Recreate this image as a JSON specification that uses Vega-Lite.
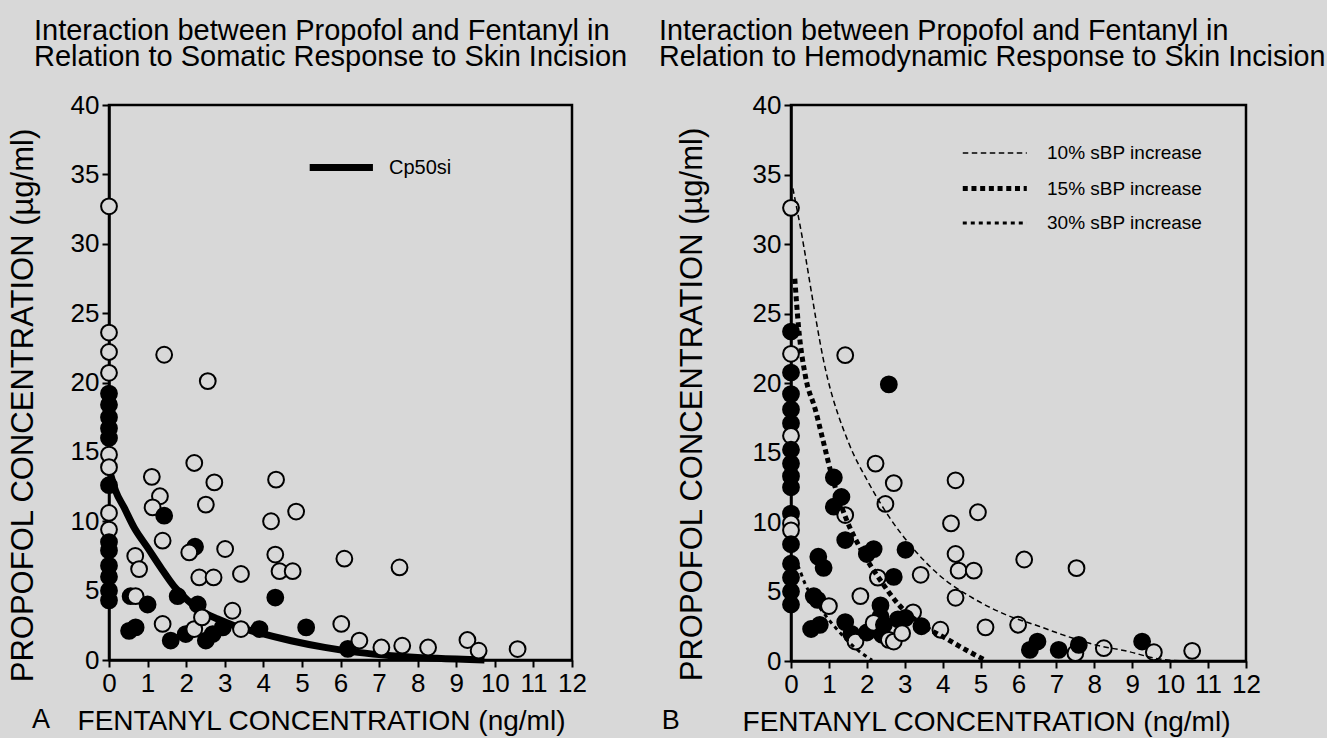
{
  "$schema": "https://vega.github.io/schema/vega-lite/v6.json",
  "background": "#d8d8d8",
  "padding": {"left": 5, "top": 15, "right": 0, "bottom": 0},
  "spacing": 28,
  "config": {
    "font": "Liberation Sans",
    "view": {"stroke": "black", "strokeWidth": 2.5},
    "axis": {"grid": false, "domainColor": "black", "domainWidth": 2.5, "tickColor": "black", "tickWidth": 2, "tickSize": 7, "labelColor": "black", "labelFontSize": 26, "labelFont": "Liberation Sans", "labelPadding": 3, "labelFlush": false, "labelOverlap": false, "titleColor": "black", "titleFontSize": 28, "titleFontWeight": "normal", "titleFont": "Liberation Sans"},
    "axisY": {"titleFontSize": 31},
    "title": {"fontSize": 29, "fontWeight": "normal", "color": "black", "anchor": "start", "frame": "group", "lineHeight": 26, "font": "Liberation Sans"},
    "legend": {"labelFont": "Liberation Sans", "labelColor": "black", "labelFontSize": 19}
  },
  "resolve": {
    "scale": {"color": "independent", "strokeDash": "independent", "strokeWidth": "independent"},
    "legend": {"color": "independent", "strokeDash": "independent", "strokeWidth": "independent"}
  },
  "datasets": {
    "curveA": [
      {"curve": "Cp50si", "x": 0, "y": 13.8},
      {"curve": "Cp50si", "x": 0.17, "y": 12.2},
      {"curve": "Cp50si", "x": 0.39, "y": 11.0},
      {"curve": "Cp50si", "x": 0.65, "y": 9.55},
      {"curve": "Cp50si", "x": 1.0, "y": 8.1},
      {"curve": "Cp50si", "x": 1.34, "y": 6.67},
      {"curve": "Cp50si", "x": 1.69, "y": 5.3},
      {"curve": "Cp50si", "x": 2.04, "y": 4.3},
      {"curve": "Cp50si", "x": 2.38, "y": 3.55},
      {"curve": "Cp50si", "x": 2.82, "y": 2.95},
      {"curve": "Cp50si", "x": 3.25, "y": 2.47},
      {"curve": "Cp50si", "x": 3.85, "y": 1.99},
      {"curve": "Cp50si", "x": 4.72, "y": 1.39},
      {"curve": "Cp50si", "x": 5.59, "y": 0.91},
      {"curve": "Cp50si", "x": 6.45, "y": 0.55},
      {"curve": "Cp50si", "x": 7.32, "y": 0.31},
      {"curve": "Cp50si", "x": 8.5, "y": 0.12},
      {"curve": "Cp50si", "x": 9.73, "y": 0}
    ],
    "curveB": [
      {"curve": "10% sBP increase", "x": 0.05, "y": 34.0},
      {"curve": "10% sBP increase", "x": 0.2, "y": 31.9},
      {"curve": "10% sBP increase", "x": 0.95, "y": 20.5},
      {"curve": "10% sBP increase", "x": 1.52, "y": 15.7},
      {"curve": "10% sBP increase", "x": 2.05, "y": 12.8},
      {"curve": "10% sBP increase", "x": 2.58, "y": 10.4},
      {"curve": "10% sBP increase", "x": 3.19, "y": 8.2},
      {"curve": "10% sBP increase", "x": 3.9, "y": 6.2},
      {"curve": "10% sBP increase", "x": 4.78, "y": 4.55},
      {"curve": "10% sBP increase", "x": 5.66, "y": 3.34},
      {"curve": "10% sBP increase", "x": 6.54, "y": 2.5},
      {"curve": "10% sBP increase", "x": 7.15, "y": 1.9},
      {"curve": "10% sBP increase", "x": 8.03, "y": 1.16},
      {"curve": "10% sBP increase", "x": 8.9, "y": 0.68},
      {"curve": "10% sBP increase", "x": 9.6, "y": 0.2},
      {"curve": "10% sBP increase", "x": 10.3, "y": 0},
      {"curve": "15% sBP increase", "x": 0.1, "y": 27.5},
      {"curve": "15% sBP increase", "x": 0.2, "y": 24.0},
      {"curve": "15% sBP increase", "x": 0.38, "y": 20.5},
      {"curve": "15% sBP increase", "x": 0.64, "y": 18.1},
      {"curve": "15% sBP increase", "x": 0.86, "y": 15.7},
      {"curve": "15% sBP increase", "x": 1.08, "y": 13.3},
      {"curve": "15% sBP increase", "x": 1.43, "y": 10.4},
      {"curve": "15% sBP increase", "x": 1.87, "y": 7.9},
      {"curve": "15% sBP increase", "x": 2.31, "y": 6.0},
      {"curve": "15% sBP increase", "x": 2.84, "y": 4.06},
      {"curve": "15% sBP increase", "x": 3.46, "y": 2.6},
      {"curve": "15% sBP increase", "x": 4.07, "y": 1.65},
      {"curve": "15% sBP increase", "x": 4.69, "y": 0.68},
      {"curve": "15% sBP increase", "x": 5.13, "y": 0.05},
      {"curve": "30% sBP increase", "x": 0.08, "y": 7.4},
      {"curve": "30% sBP increase", "x": 0.16, "y": 7.0},
      {"curve": "30% sBP increase", "x": 0.38, "y": 5.5},
      {"curve": "30% sBP increase", "x": 0.82, "y": 3.6},
      {"curve": "30% sBP increase", "x": 1.26, "y": 2.13},
      {"curve": "30% sBP increase", "x": 1.7, "y": 0.92},
      {"curve": "30% sBP increase", "x": 2.14, "y": 0.05}
    ],
    "pointsA": [
      {"x": 0, "y": 32.7, "response": "open"},
      {"x": 0, "y": 23.6, "response": "open"},
      {"x": 0, "y": 22.2, "response": "open"},
      {"x": 0, "y": 20.7, "response": "open"},
      {"x": 0, "y": 19.2, "response": "filled"},
      {"x": 0, "y": 18.4, "response": "filled"},
      {"x": 0, "y": 17.5, "response": "filled"},
      {"x": 0, "y": 16.7, "response": "filled"},
      {"x": 0, "y": 16.0, "response": "filled"},
      {"x": 0, "y": 14.8, "response": "open"},
      {"x": 0, "y": 13.9, "response": "open"},
      {"x": 0, "y": 12.6, "response": "filled"},
      {"x": 0, "y": 10.6, "response": "open"},
      {"x": 0, "y": 9.4, "response": "open"},
      {"x": 0, "y": 8.5, "response": "filled"},
      {"x": 0, "y": 7.9, "response": "filled"},
      {"x": 0, "y": 6.8, "response": "filled"},
      {"x": 0, "y": 6.0, "response": "filled"},
      {"x": 0, "y": 5.0, "response": "filled"},
      {"x": 0, "y": 4.3, "response": "filled"},
      {"x": 1.43, "y": 22.0, "response": "open"},
      {"x": 2.56, "y": 20.1, "response": "open"},
      {"x": 2.21, "y": 14.2, "response": "open"},
      {"x": 1.11, "y": 13.2, "response": "open"},
      {"x": 2.73, "y": 12.8, "response": "open"},
      {"x": 4.33, "y": 13.0, "response": "open"},
      {"x": 1.32, "y": 11.8, "response": "open"},
      {"x": 2.51, "y": 11.2, "response": "open"},
      {"x": 1.13, "y": 11.0, "response": "open"},
      {"x": 1.43, "y": 10.4, "response": "filled"},
      {"x": 4.2, "y": 10.0, "response": "open"},
      {"x": 4.85, "y": 10.7, "response": "open"},
      {"x": 1.39, "y": 8.6, "response": "open"},
      {"x": 2.23, "y": 8.16, "response": "filled"},
      {"x": 2.08, "y": 7.75, "response": "open"},
      {"x": 3.01, "y": 8.0, "response": "open"},
      {"x": 0.68, "y": 7.5, "response": "open"},
      {"x": 0.78, "y": 6.55, "response": "open"},
      {"x": 4.31, "y": 7.6, "response": "open"},
      {"x": 4.42, "y": 6.4, "response": "open"},
      {"x": 4.76, "y": 6.4, "response": "open"},
      {"x": 2.34, "y": 5.95, "response": "open"},
      {"x": 2.71, "y": 5.95, "response": "open"},
      {"x": 3.42, "y": 6.2, "response": "open"},
      {"x": 4.31, "y": 4.5, "response": "filled"},
      {"x": 0.56, "y": 4.6, "response": "filled"},
      {"x": 0.69, "y": 4.6, "response": "open"},
      {"x": 1.0, "y": 4.0, "response": "filled"},
      {"x": 1.78, "y": 4.6, "response": "filled"},
      {"x": 2.3, "y": 4.0, "response": "filled"},
      {"x": 3.2, "y": 3.55, "response": "open"},
      {"x": 0.52, "y": 2.1, "response": "filled"},
      {"x": 0.69, "y": 2.35, "response": "filled"},
      {"x": 1.39, "y": 2.6, "response": "open"},
      {"x": 1.6, "y": 1.4, "response": "filled"},
      {"x": 1.99, "y": 1.87, "response": "filled"},
      {"x": 2.21, "y": 2.23, "response": "open"},
      {"x": 2.41, "y": 3.07, "response": "open"},
      {"x": 2.51, "y": 1.4, "response": "filled"},
      {"x": 2.69, "y": 1.87, "response": "filled"},
      {"x": 2.95, "y": 2.35, "response": "filled"},
      {"x": 3.42, "y": 2.23, "response": "open"},
      {"x": 3.9, "y": 2.23, "response": "filled"},
      {"x": 5.11, "y": 2.35, "response": "filled"},
      {"x": 6.02, "y": 2.6, "response": "open"},
      {"x": 6.1, "y": 7.3, "response": "open"},
      {"x": 6.19, "y": 0.8, "response": "filled"},
      {"x": 6.49, "y": 1.4, "response": "open"},
      {"x": 7.06, "y": 0.9, "response": "open"},
      {"x": 7.53, "y": 6.67, "response": "open"},
      {"x": 7.6, "y": 1.03, "response": "open"},
      {"x": 8.27, "y": 0.9, "response": "open"},
      {"x": 9.29, "y": 1.44, "response": "open"},
      {"x": 9.58, "y": 0.67, "response": "open"},
      {"x": 10.59, "y": 0.79, "response": "open"}
    ],
    "pointsB": [
      {"x": 0, "y": 32.6, "response": "open"},
      {"x": 0, "y": 23.7, "response": "filled"},
      {"x": 0, "y": 22.1, "response": "open"},
      {"x": 0, "y": 20.75, "response": "filled"},
      {"x": 0, "y": 19.2, "response": "filled"},
      {"x": 0, "y": 18.1, "response": "filled"},
      {"x": 0, "y": 17.1, "response": "filled"},
      {"x": 0, "y": 16.2, "response": "open"},
      {"x": 0, "y": 15.2, "response": "filled"},
      {"x": 0, "y": 14.2, "response": "filled"},
      {"x": 0, "y": 13.3, "response": "filled"},
      {"x": 0, "y": 12.5, "response": "filled"},
      {"x": 0, "y": 10.6, "response": "filled"},
      {"x": 0, "y": 9.9, "response": "open"},
      {"x": 0, "y": 9.4, "response": "open"},
      {"x": 0, "y": 8.4, "response": "filled"},
      {"x": 0, "y": 7.0, "response": "filled"},
      {"x": 0, "y": 6.0, "response": "filled"},
      {"x": 0, "y": 5.0, "response": "filled"},
      {"x": 0, "y": 4.06, "response": "filled"},
      {"x": 1.43, "y": 22.0, "response": "open"},
      {"x": 2.58, "y": 19.9, "response": "filled"},
      {"x": 2.23, "y": 14.2, "response": "open"},
      {"x": 2.71, "y": 12.8, "response": "open"},
      {"x": 2.49, "y": 11.3, "response": "open"},
      {"x": 4.34, "y": 13.0, "response": "open"},
      {"x": 4.93, "y": 10.7, "response": "open"},
      {"x": 4.22, "y": 9.9, "response": "open"},
      {"x": 6.15, "y": 7.3, "response": "open"},
      {"x": 1.13, "y": 13.2, "response": "filled"},
      {"x": 1.33, "y": 11.8, "response": "filled"},
      {"x": 1.13, "y": 11.1, "response": "filled"},
      {"x": 1.43, "y": 10.5, "response": "open"},
      {"x": 1.43, "y": 8.7, "response": "filled"},
      {"x": 2.18, "y": 8.05, "response": "filled"},
      {"x": 2.0, "y": 7.7, "response": "filled"},
      {"x": 3.02, "y": 8.0, "response": "filled"},
      {"x": 0.72, "y": 7.5, "response": "filled"},
      {"x": 0.86, "y": 6.7, "response": "filled"},
      {"x": 2.29, "y": 6.0, "response": "open"},
      {"x": 2.71, "y": 6.05, "response": "filled"},
      {"x": 3.42, "y": 6.2, "response": "open"},
      {"x": 4.34, "y": 7.7, "response": "open"},
      {"x": 4.42, "y": 6.5, "response": "open"},
      {"x": 4.82, "y": 6.5, "response": "open"},
      {"x": 4.34, "y": 4.55, "response": "open"},
      {"x": 1.83, "y": 4.67, "response": "open"},
      {"x": 0.6, "y": 4.67, "response": "filled"},
      {"x": 0.7, "y": 4.4, "response": "filled"},
      {"x": 1.0, "y": 3.95, "response": "open"},
      {"x": 2.36, "y": 4.0, "response": "filled"},
      {"x": 3.22, "y": 3.5, "response": "open"},
      {"x": 2.36, "y": 3.2, "response": "filled"},
      {"x": 2.82, "y": 3.0, "response": "filled"},
      {"x": 3.02, "y": 3.1, "response": "filled"},
      {"x": 3.44, "y": 2.5, "response": "filled"},
      {"x": 3.94, "y": 2.25, "response": "open"},
      {"x": 5.13, "y": 2.42, "response": "open"},
      {"x": 5.99, "y": 2.61, "response": "open"},
      {"x": 0.53, "y": 2.3, "response": "filled"},
      {"x": 0.76, "y": 2.6, "response": "filled"},
      {"x": 1.43, "y": 2.8, "response": "filled"},
      {"x": 1.59, "y": 1.95, "response": "filled"},
      {"x": 1.7, "y": 1.4, "response": "open"},
      {"x": 2.0, "y": 2.05, "response": "filled"},
      {"x": 2.18, "y": 2.74, "response": "open"},
      {"x": 2.45, "y": 2.6, "response": "filled"},
      {"x": 2.4, "y": 1.89, "response": "filled"},
      {"x": 2.58, "y": 1.52, "response": "open"},
      {"x": 2.71, "y": 1.4, "response": "open"},
      {"x": 2.93, "y": 2.0, "response": "open"},
      {"x": 6.3, "y": 0.8, "response": "filled"},
      {"x": 6.5, "y": 1.4, "response": "filled"},
      {"x": 7.06, "y": 0.8, "response": "filled"},
      {"x": 7.5, "y": 0.56, "response": "open"},
      {"x": 7.59, "y": 1.16, "response": "filled"},
      {"x": 8.25, "y": 0.92, "response": "open"},
      {"x": 9.26, "y": 1.4, "response": "filled"},
      {"x": 9.57, "y": 0.63, "response": "open"},
      {"x": 10.58, "y": 0.73, "response": "open"},
      {"x": 7.53, "y": 6.68, "response": "open"}
    ]
  },
  "hconcat": [
    {
      "width": 463,
      "height": 555,
      "title": {"text": ["Interaction between Propofol and Fentanyl in", "Relation to Somatic Response to Skin Incision"], "dx": -75, "offset": 20},
      "layer": [
        {
          "data": {"name": "curveA"},
          "mark": {"type": "line", "strokeWidth": 7, "interpolate": "monotone", "strokeCap": "butt"},
          "encoding": {
            "x": {"field": "x", "type": "quantitative", "scale": {"domain": [0, 12], "nice": false}, "axis": {"values": [0,1,2,3,4,5,6,7,8,9,10,11,12], "title": "FENTANYL CONCENTRATION (ng/ml)", "titleX": 212, "titlePadding": 11}},
            "y": {"field": "y", "type": "quantitative", "scale": {"domain": [0, 40], "nice": false}, "axis": {"values": [0,5,10,15,20,25,30,35,40], "title": "PROPOFOL CONCENTRATION (\u00b5g/ml)", "titlePadding": 31, "titleY": 300}},
            "color": {"field": "curve", "type": "nominal", "scale": {"range": ["black"]}, "legend": {"title": null, "orient": "none", "legendX": 197, "legendY": 43, "symbolType": "M-1,0H3", "symbolSize": 1000, "symbolStrokeWidth": 7, "labelOffset": 44, "labelFontSize": 20}}
          }
        },
        {
          "data": {"name": "pointsA"},
          "mark": {"type": "point", "shape": "circle", "filled": true, "size": 250, "stroke": "black", "strokeWidth": 2, "opacity": 1},
          "encoding": {
            "x": {"field": "x", "type": "quantitative", "scale": {"domain": [0, 12], "nice": false}, "axis": {"values": [0,1,2,3,4,5,6,7,8,9,10,11,12], "title": "FENTANYL CONCENTRATION (ng/ml)", "titleX": 212, "titlePadding": 11}},
            "y": {"field": "y", "type": "quantitative", "scale": {"domain": [0, 40], "nice": false}, "axis": {"values": [0,5,10,15,20,25,30,35,40], "title": "PROPOFOL CONCENTRATION (\u00b5g/ml)", "titlePadding": 31, "titleY": 300}},
            "fill": {"field": "response", "type": "nominal", "scale": {"domain": ["open", "filled"], "range": ["#d8d8d8", "black"]}, "legend": null}
          }
        },
        {
          "data": {"values": [{"label": "A"}]},
          "mark": {"type": "text", "fontSize": 27, "color": "black", "align": "center", "baseline": "middle"},
          "encoding": {
            "x": {"datum": -1.76, "type": "quantitative", "scale": {"domain": [0, 12], "nice": false}, "axis": {"values": [0,1,2,3,4,5,6,7,8,9,10,11,12], "title": "FENTANYL CONCENTRATION (ng/ml)", "titleX": 212, "titlePadding": 11}},
            "y": {"datum": -4.3, "type": "quantitative", "scale": {"domain": [0, 40], "nice": false}, "axis": {"values": [0,5,10,15,20,25,30,35,40], "title": "PROPOFOL CONCENTRATION (\u00b5g/ml)", "titlePadding": 31, "titleY": 300}},
            "text": {"field": "label", "type": "nominal"}
          }
        }
      ]
    },
    {
      "width": 455,
      "height": 556,
      "title": {"text": ["Interaction between Propofol and Fentanyl in", "Relation to Hemodynamic Response to Skin Incision"], "dx": -132, "offset": 20, "fontSize": 28.7},
      "layer": [
        {
          "data": {"name": "pointsB"},
          "mark": {"type": "point", "shape": "circle", "filled": true, "size": 250, "stroke": "black", "strokeWidth": 2, "opacity": 1},
          "encoding": {
            "x": {"field": "x", "type": "quantitative", "scale": {"domain": [0, 12], "nice": false}, "axis": {"values": [0,1,2,3,4,5,6,7,8,9,10,11,12], "title": "FENTANYL CONCENTRATION (ng/ml)", "titleX": 195, "titlePadding": 11}},
            "y": {"field": "y", "type": "quantitative", "scale": {"domain": [0, 40], "nice": false}, "axis": {"values": [0,5,10,15,20,25,30,35,40], "title": "PROPOFOL CONCENTRATION (\u00b5g/ml)", "titlePadding": 43.5, "titleY": 299}},
            "fill": {"field": "response", "type": "nominal", "scale": {"domain": ["open", "filled"], "range": ["#d8d8d8", "black"]}, "legend": null}
          }
        },
        {
          "data": {"name": "curveB"},
          "mark": {"type": "line", "color": "black", "interpolate": "monotone", "strokeCap": "butt"},
          "encoding": {
            "x": {"field": "x", "type": "quantitative", "scale": {"domain": [0, 12], "nice": false}, "axis": {"values": [0,1,2,3,4,5,6,7,8,9,10,11,12], "title": "FENTANYL CONCENTRATION (ng/ml)", "titleX": 195, "titlePadding": 11}},
            "y": {"field": "y", "type": "quantitative", "scale": {"domain": [0, 40], "nice": false}, "axis": {"values": [0,5,10,15,20,25,30,35,40], "title": "PROPOFOL CONCENTRATION (\u00b5g/ml)", "titlePadding": 43.5, "titleY": 299}},
            "strokeDash": {"field": "curve", "type": "nominal", "scale": {"domain": ["10% sBP increase", "15% sBP increase", "30% sBP increase"], "range": [[5.5, 3.5], [5, 3.7], [4, 4]]}, "legend": {"title": null, "orient": "none", "legendX": 169, "legendY": 34, "symbolType": "M-1,0H3.84", "symbolSize": 700, "symbolStrokeColor": "black", "labelOffset": 55, "rowPadding": 9.5}},
            "strokeWidth": {"field": "curve", "type": "nominal", "scale": {"type": "ordinal", "domain": ["10% sBP increase", "15% sBP increase", "30% sBP increase"], "range": [1.5, 5, 3]}, "legend": {"title": null, "orient": "none", "legendX": 169, "legendY": 34, "symbolType": "M-1,0H3.84", "symbolSize": 700, "symbolStrokeColor": "black", "labelOffset": 55, "rowPadding": 9.5}}
          }
        },
        {
          "data": {"values": [{"label": "B"}]},
          "mark": {"type": "text", "fontSize": 27, "color": "black", "align": "center", "baseline": "middle"},
          "encoding": {
            "x": {"datum": -3.17, "type": "quantitative", "scale": {"domain": [0, 12], "nice": false}, "axis": {"values": [0,1,2,3,4,5,6,7,8,9,10,11,12], "title": "FENTANYL CONCENTRATION (ng/ml)", "titleX": 195, "titlePadding": 11}},
            "y": {"datum": -4.3, "type": "quantitative", "scale": {"domain": [0, 40], "nice": false}, "axis": {"values": [0,5,10,15,20,25,30,35,40], "title": "PROPOFOL CONCENTRATION (\u00b5g/ml)", "titlePadding": 43.5, "titleY": 299}},
            "text": {"field": "label", "type": "nominal"}
          }
        }
      ]
    }
  ]
}
